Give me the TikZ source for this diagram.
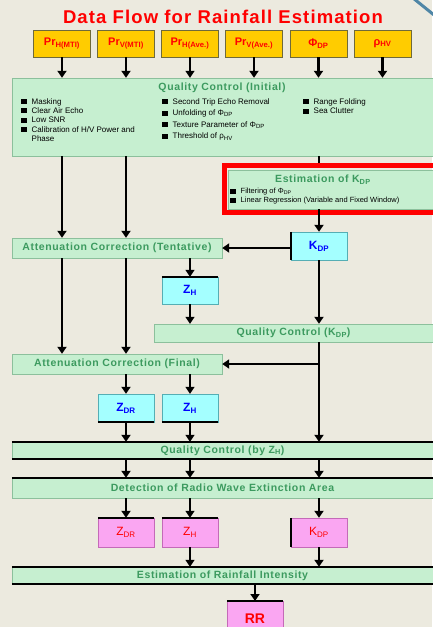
\documentclass[tikz,border=0pt]{standalone}
\usepackage{fontspec}
\setmainfont{Liberation Sans}
\newfontfamily\widefont[LetterSpace=6]{Liberation Sans}
\usetikzlibrary{arrows.meta,calc}

\definecolor{bgcol}{HTML}{ECEADF}
\definecolor{greenfill}{HTML}{C6EFD0}
\definecolor{greenline}{HTML}{8CC09C}
\definecolor{greentext}{HTML}{3C9A5F}
\definecolor{goldfill}{HTML}{FFCC00}
\definecolor{goldline}{HTML}{6F6A3A}
\definecolor{cyanfill}{HTML}{A4FFFF}
\definecolor{cyanline}{HTML}{55AEB4}
\definecolor{pinkfill}{HTML}{FAA6F2}
\definecolor{pinkline}{HTML}{C46AB8}
\definecolor{decoblue}{HTML}{4F86A6}

\newcommand{\bsq}{\rule{5.5pt}{5pt}\hspace{5pt}}

\tikzset{
    greenbox/.style={draw=greenline, fill=greenfill, text=greentext,
        font=\widefont\bfseries\fontsize{10.5}{12}\selectfont, inner sep=0pt},
    boxtitle/.style={text=greentext, inner sep=0pt,
        font=\widefont\bfseries\fontsize{10.5}{12}\selectfont},
    inbox/.style={draw=goldline, fill=goldfill, text=red,
        font=\bfseries\fontsize{11}{12}\selectfont, inner sep=0pt,
        minimum width=57pt, minimum height=27pt},
    cyanbox/.style={draw=cyanline, fill=cyanfill, text=blue,
        font=\bfseries\fontsize{12}{13}\selectfont, inner sep=0pt,
        minimum width=56pt, minimum height=28pt},
    pinkbox/.style={draw=pinkline, fill=pinkfill, text=red,
        font=\fontsize{12}{13}\selectfont, inner sep=0pt,
        minimum width=56pt, minimum height=29pt},
    itemlist/.style={align=left, inner sep=0pt, anchor=north west},
    arr/.style={line width=2.4pt, -{Triangle[length=7pt,width=9pt]}},
    thinarr/.style={line width=1.1pt, -{Triangle[length=7pt,width=9pt]}},
    edge line/.style={line width=1.6pt, black},
}

\begin{document}
\begin{tikzpicture}[x=1pt, y=-1pt]
        % Page and background
        \useasboundingbox (0, 0) rectangle (432, 627);
        \fill[bgcol] (0, 0) rectangle (432, 627);
        \draw[decoblue, line width=3pt] (413, -2) -- (434, 15);

        \node[text=red, font=\widefont\bfseries\fontsize{18.5}{20}\selectfont]
            (title) at (223, 17) {Data Flow for Rainfall Estimation};

        % Input data
        \node[inbox] (in1) at (62, 43.5) {Pr\textsubscript{H(MTI)}};
        \node[inbox] (in2) at (126, 43.5) {Pr\textsubscript{V(MTI)}};
        \node[inbox] (in3) at (190, 43.5) {Pr\textsubscript{H(Ave.)}};
        \node[inbox] (in4) at (254, 43.5) {Pr\textsubscript{V(Ave.)}};
        \node[inbox] (in5) at (318.5, 43.5) {Φ\textsubscript{DP}};
        \node[inbox] (in6) at (382.5, 43.5) {ρ\textsubscript{HV}};

        % Quality control (initial)
        \node[greenbox, minimum width=421pt, minimum height=78pt] (qci)
            at (222.5, 117) {};
        \node[boxtitle] (qcititle) at (222, 88) {Quality Control (Initial)};
        \node[itemlist, font=\fontsize{8}{9.4}\selectfont] (qcia)
            at (21, 98) {\bsq Masking\\ \bsq Clear Air Echo\\ \bsq Low SNR\\
            \bsq Calibration of H/V Power and\\ \hspace{10.5pt}Phase};
        \node[itemlist, font=\fontsize{8}{11.6}\selectfont] (qcib)
            at (162, 98) {\bsq Second Trip Echo Removal\\
            \bsq Unfolding of Φ\textsubscript{DP}\\
            \bsq Texture Parameter of Φ\textsubscript{DP}\\
            \bsq Threshold of ρ\textsubscript{HV}};
        \node[itemlist, font=\fontsize{8}{9.8}\selectfont] (qcic)
            at (303, 98) {\bsq Range Folding\\ \bsq Sea Clutter};

        % Estimation of KDP (framed in red)
        \node[draw=red, line width=4.5pt, minimum width=220pt,
            minimum height=47pt, inner sep=0pt] (kdpfrm) at (334.5, 189) {};
        \node[greenbox, minimum width=206pt, minimum height=39pt] (kdpest)
            at (331, 189.5) {};
        \node[boxtitle] (kdptitle) at (323, 180) {Estimation of K\textsubscript{DP}};
        \node[itemlist, font=\fontsize{7.5}{9}\selectfont] (kdpitems)
            at (230, 188) {\bsq Filtering of Φ\textsubscript{DP}\\
            \bsq Linear Regression (Variable and Fixed Window)};

        % Tentative attenuation correction
        \node[greenbox, minimum width=210pt, minimum height=20pt] (act)
            at (117, 248) {Attenuation Correction (Tentative)};
        \node[cyanbox] (kdp1) at (319, 246) {K\textsubscript{DP}};
        \node[cyanbox, minimum height=27pt] (zh1) at (190, 290.5) {Z\textsubscript{H}};
        \node[greenbox, minimum width=279pt, minimum height=18pt] (qck)
            at (293.5, 333) {Quality Control (K\textsubscript{DP})};

        % Final attenuation correction
        \node[greenbox, minimum width=210pt, minimum height=20pt] (acf)
            at (117, 364) {Attenuation Correction (Final)};
        \node[cyanbox] (zdr1) at (126, 408) {Z\textsubscript{DR}};
        \node[cyanbox] (zh2) at (190, 408) {Z\textsubscript{H}};
        \node[greenbox, minimum width=421pt, minimum height=17pt] (qcz)
            at (222.5, 450.5) {Quality Control (by Z\textsubscript{H})};
        \node[greenbox, minimum width=421pt, minimum height=20pt] (det)
            at (222.5, 488) {Detection of Radio Wave Extinction Area};

        % Rainfall estimation
        \node[pinkbox] (zdr2) at (126, 532.5) {Z\textsubscript{DR}};
        \node[pinkbox] (zh3) at (190, 532.5) {Z\textsubscript{H}};
        \node[pinkbox] (kdp2) at (319, 532.5) {K\textsubscript{DP}};
        \node[greenbox, minimum width=421pt, minimum height=17pt] (rain)
            at (222.5, 575.5) {Estimation of Rainfall Intensity};
        \node[pinkbox, font=\bfseries\fontsize{14}{15}\selectfont,
            minimum height=34pt, anchor=north] (rr) at (255, 601) {RR};

        % Dark edges on some boxes
        \draw[edge line] (zh1.north west) -- (zh1.north east);
        \draw[edge line] (kdp1.north west) -- (kdp1.south west);
        \draw[edge line] (zdr1.south west) -- (zdr1.south east);
        \draw[edge line] (zh2.south west) -- (zh2.south east);
        \draw[edge line] (qcz.north west) -- (qcz.north east);
        \draw[edge line] (qcz.south west) -- (qcz.south east);
        \draw[edge line] (det.north west) -- (det.north east);
        \draw[edge line] (zdr2.north west) -- (zdr2.north east);
        \draw[edge line] (zh3.north west) -- (zh3.north east);
        \draw[edge line] (kdp2.north west) -- (kdp2.south west);
        \draw[edge line] (rain.north west) -- (rain.north east);
        \draw[edge line] (rain.south west) -- (rain.south east);
        \draw[edge line] (rr.north west) -- (rr.north east);

        % Connectors
        \draw[arr] (in1.south) -- (in1 |- qci.north);
        \draw[arr] (in2.south) -- (in2 |- qci.north);
        \draw[thinarr] (in3.south) -- (in3 |- qci.north);
        \draw[arr] (in4.south) -- (in4 |- qci.north);
        \draw[arr] (in5.south) -- (in5 |- qci.north);
        \draw[arr] (in6.south) -- (in6 |- qci.north);

        \draw[arr] (in1 |- qci.south) -- (in1 |- act.north);
        \draw[arr] (in2 |- qci.south) -- (in2 |- act.north);
        \draw[line width=1.6pt] (kdp1 |- qci.south) -- (kdp1 |- kdpfrm.north);
        \draw[arr] (kdp1 |- kdpest.south) -- (kdp1.north);

        \draw[arr] (kdp1.west |- act.east) -- (act.east);
        \draw[thinarr] (zh1 |- act.south) -- (zh1.north);
        \draw[thinarr] (zh1.south) -- (zh1 |- qck.north);
        \draw[arr] (kdp1.south) -- (kdp1 |- qck.north);

        \draw[arr] (in1 |- act.south) -- (in1 |- acf.north);
        \draw[arr] (in2 |- act.south) -- (in2 |- acf.north);
        \coordinate (brk) at (kdp1 |- acf.east);
        \draw[arr] (kdp1 |- qck.south) -- (kdp1 |- qcz.north);
        \draw[arr] (brk) -- (acf.east);

        \draw[arr] (zdr1 |- acf.south) -- (zdr1.north);
        \draw[thinarr] (zh2 |- acf.south) -- (zh2.north);
        \draw[arr] (zdr1.south) -- (zdr1 |- qcz.north);
        \draw[thinarr] (zh2.south) -- (zh2 |- qcz.north);

        \draw[arr] (zdr1 |- qcz.south) -- (zdr1 |- det.north);
        \draw[arr] (zh2 |- qcz.south) -- (zh2 |- det.north);
        \draw[arr] (kdp1 |- qcz.south) -- (kdp1 |- det.north);

        \draw[arr] (zdr2 |- det.south) -- (zdr2.north);
        \draw[thinarr] (zh3 |- det.south) -- (zh3.north);
        \draw[arr] (kdp2 |- det.south) -- (kdp2.north);

        \draw[thinarr] (zh3.south) -- (zh3 |- rain.north);
        \draw[arr] (kdp2.south) -- (kdp2 |- rain.north);
        \draw[arr] (rr |- rain.south) -- (rr.north);

\end{tikzpicture}
\end{document}
